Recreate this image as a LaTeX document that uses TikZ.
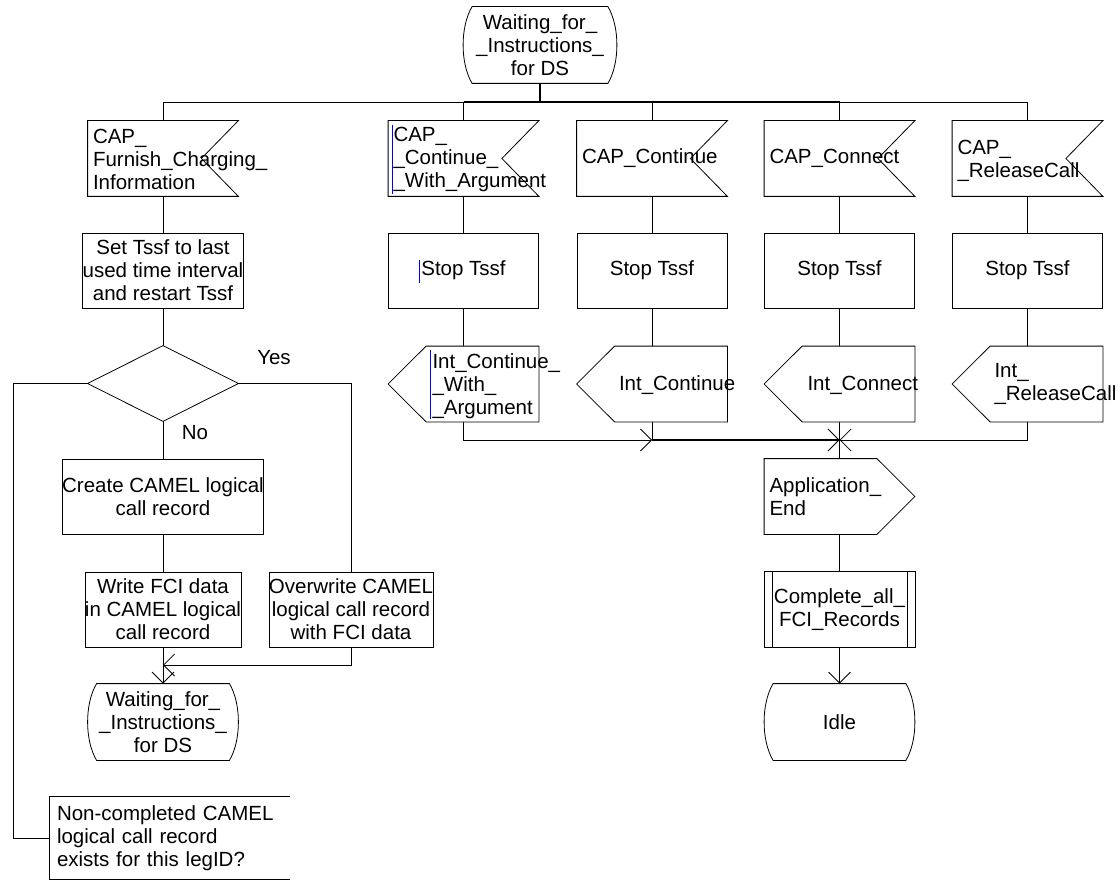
\documentclass[tikz,border=0pt]{standalone}
\usepackage{fontspec}
\setmainfont{Liberation Sans}
\usetikzlibrary{arrows.meta,calc}
\newcommand\sdlinput[1]{\draw (#1.north west) -- (#1.north east) -- ($(#1.east)+(-37,0)$) -- (#1.south east) -- (#1.south west) -- cycle;}
\newcommand\sdloutL[1]{\draw (#1.west) -- ($(#1.north west)+(38,0)$) -- (#1.north east) -- (#1.south east) -- ($(#1.south west)+(38,0)$) -- cycle;}
\newcommand\sdloutR[1]{\draw (#1.north west) -- ($(#1.north east)+(-38,0)$) -- (#1.east) -- ($(#1.south east)+(-38,0)$) -- (#1.south west) -- cycle;}
\newcommand\sdlstate[1]{\draw ($(#1.north west)+(9,0)$) -- ($(#1.north east)+(-9,0)$) .. controls ($(#1.north east)+(3,20)$) and ($(#1.south east)+(3,-20)$) .. ($(#1.south east)+(-9,0)$) -- ($(#1.south west)+(9,0)$) .. controls ($(#1.south west)+(-3,-20)$) and ($(#1.north west)+(-3,20)$) .. cycle;}
\newcommand\sdlproc[1]{\draw (#1.north west) rectangle (#1.south east); \draw ($(#1.north west)+(8,0)$) -- ($(#1.south west)+(8,0)$); \draw ($(#1.north east)+(-8,0)$) -- ($(#1.south east)+(-8,0)$);}
\begin{document}
\begin{tikzpicture}[x=1pt,y=-1pt,line width=0.8pt,
  every node/.style={font=\fontsize{20.5}{23}\selectfont, inner sep=0pt},
  frame/.style={rectangle, minimum width=150pt, minimum height=75pt, align=center},
  taskbox/.style={frame, draw},
  lbl/.style={align=left},
  arr/.style={-{Straight Barb[length=11pt,width=22pt,line width=0.8pt]}},
  heavy/.style={line width=1.5pt},
  cursor/.style={draw=blue, line width=1pt}]
\fill[white] (0,0) rectangle (1120,880);
\useasboundingbox (0,0) rectangle (1120,880);

% top state
\node[frame, minimum width=153pt, minimum height=76pt] (st0) at (540,45) {Waiting\_for\_\\\_Instructions\_\\for DS};
\sdlstate{st0}

% inputs
\node[frame] (i0) at (163,158.5) {};
\node[frame] (i1) at (463.5,158.5) {};
\node[frame] (i2) at (652,158.5) {};
\node[frame] (i3) at (839.5,158.5) {};
\node[frame] (i4) at (1027.5,158.5) {};
\foreach \n in {i0,i1,i2,i3,i4} {\sdlinput{\n}}
\node[lbl, anchor=west] (i0t) at ($(i0.west)+(5,1)$) {CAP\_\\Furnish\_Charging\_\\Information};
\node[lbl, anchor=west] (i1t) at ($(i1.west)+(5,1)$) {CAP\_\\\_Continue\_\\\_With\_Argument};
\node[lbl, anchor=west] (i2t) at ($(i2.west)+(5,0)$) {CAP\_Continue};
\node[lbl, anchor=west] (i3t) at ($(i3.west)+(5,0)$) {CAP\_Connect};
\node[lbl, anchor=west] (i4t) at ($(i4.west)+(5,2)$) {CAP\_\\\_ReleaseCall};

% tasks
\node[taskbox] (s0) at (163,270.5) {Set Tssf to last\\used time interval\\and restart Tssf};
\node[taskbox] (s1) at (463.5,270.5) {Stop Tssf};
\node[taskbox] (s2) at (652,270.5) {Stop Tssf};
\node[taskbox] (s3) at (839.5,270.5) {Stop Tssf};
\node[taskbox] (s4) at (1027.5,270.5) {Stop Tssf};

% outputs
\node[frame] (o1) at (463.5,384) {};
\node[frame] (o2) at (652,384) {};
\node[frame] (o3) at (839.5,384) {};
\node[frame] (o4) at (1027.5,384) {};
\foreach \n in {o1,o2,o3,o4} {\sdloutL{\n}}
\node[lbl, anchor=west] (o1t) at ($(o1.west)+(44,2)$) {Int\_Continue\_\\\_With\_\\\_Argument};
\node[lbl, anchor=west] (o2t) at ($(o2.west)+(42,1)$) {Int\_Continue};
\node[lbl, anchor=west] (o3t) at ($(o3.west)+(43,1)$) {Int\_Connect};
\node[lbl, anchor=west] (o4t) at ($(o4.west)+(42,0)$) {Int\_\\\_ReleaseCall};

% cursor marks
\draw[cursor] (392,125) -- (392,194);
\draw[cursor] (419,260) -- (419,283);
\draw[cursor] (430,350) -- (430,419);

% right tail
\node[frame] (ae) at (839.5,496.5) {};
\sdloutR{ae}
\node[lbl, anchor=west] (aet) at ($(ae.west)+(5,0)$) {Application\_\\End};
\node[frame] (pr) at (839.5,609.5) {Complete\_all\_\\FCI\_Records};
\sdlproc{pr}
\node[frame, minimum height=76pt] (id) at (839.5,722) {Idle};
\sdlstate{id}

% left branch
\node[frame] (dec) at (163,383.5) {};
\draw (dec.north) -- (dec.east) -- (dec.south) -- (dec.west) -- cycle;
\node (yes) at (274,358) {Yes};
\node (no) at (195,433) {No};
\node[taskbox] (cr) at (163,496.5) {Create CAMEL logical\\call record};
\node[taskbox] (wr) at (163,609.5) {Write FCI data\\in CAMEL logical\\call record};
\node[taskbox] (ow) at (351,609.5) {Overwrite CAMEL\\logical call record\\with FCI data};
\node[frame, minimum height=76pt] (st1) at (163,722) {Waiting\_for\_\\\_Instructions\_\\for DS};
\sdlstate{st1}
\node[rectangle, minimum width=240pt, minimum height=82pt, text width=226pt, lbl] (cmt) at (170,838) {Non-completed CAMEL\\logical call record\\exists for this legID?};
\draw (cmt.north east) -- (cmt.north west) -- (cmt.south west) -- (cmt.south east);

% coordinates
\coordinate (busL) at (163,102);
\coordinate (busR) at (1027.5,102);
\coordinate (m1) at (652,440);
\coordinate (m2) at (839.5,440);
\coordinate (j1) at (163,665);
\coordinate (cl) at (13,383.5);

% bus
\draw (busL) -- (busR);
\draw[heavy] (i1.north |- busL) -- (i3.north |- busL);
\draw[heavy] (st0.south) -- (st0.south |- busL);
\foreach \n in {i0,i1,i2,i3,i4} {\draw (\n.north |- busL) -- (\n.north);}
\foreach \a/\b in {i1/s1,i2/s2,i3/s3,i4/s4,s1/o1,s2/o2,s3/o3,s4/o4} {\draw (\a.south) -- (\b.north);}

% merge
\draw[arr] (o1.south) |- (m1);
\draw (o2.south) -- (m1);
\draw[heavy, arr] (m1) -- (m2);
\draw[arr] (o4.south) |- (m2);
\draw (o3.south) -- (m2);
\draw[heavy] (m2) -- (ae.north);
\draw (ae.south) -- (pr.north);
\draw[arr] (pr.south) -- (id.north);

% left connectors
\draw (i0.south) -- (s0.north);
\draw (s0.south) -- (dec.north);
\draw (dec.south) -- (cr.north);
\draw (cr.south) -- (wr.north);
\draw[arr] (wr.south) -- (st1.north);
\draw (dec.east) -| (ow.north);
\draw[arr] (ow.south) |- (j1);
\draw (dec.west) -- (cl) |- (cmt.west);
\end{tikzpicture}
\end{document}
